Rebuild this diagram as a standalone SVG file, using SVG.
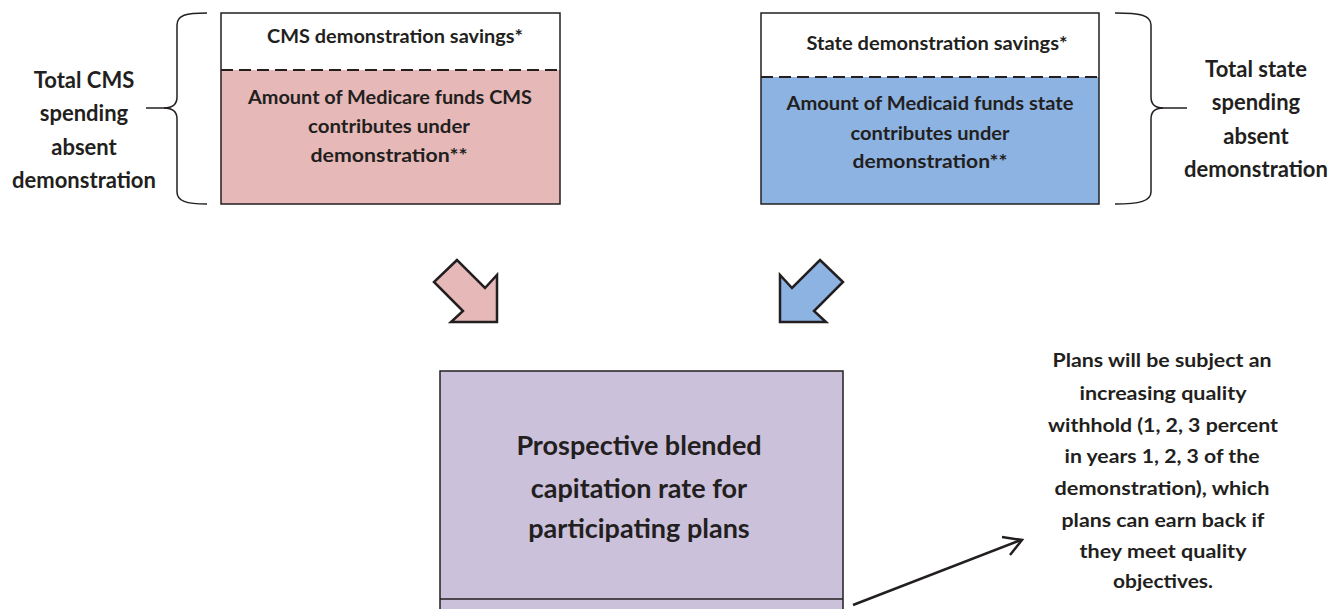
<svg xmlns="http://www.w3.org/2000/svg" width="1333" height="609" viewBox="0 0 1333 609">
  <style>
    text { font-family: Lato, "Open Sans", "Liberation Sans", sans-serif; font-weight: bold; fill: #231f20; text-anchor: middle; }
    .box { stroke: #231f20; stroke-width: 1.5; }
    .dash { stroke: #231f20; stroke-width: 2; stroke-dasharray: 12 6; fill: none; }
    .brace { stroke: #231f20; stroke-width: 1.5; fill: none; }
    .blk { stroke: #231f20; stroke-width: 2.5; stroke-linejoin: miter; }
    .t16 { font-size: 18px; }
    .t21 { font-size: 22px; }
    .t18 { font-size: 19px; }
    .t26 { font-size: 27px; }
  </style>
  <rect width="1333" height="609" fill="#ffffff"/>

  <!-- CMS spending box -->
  <g id="cms-box">
    <rect x="221" y="70" width="339" height="134" fill="#e6b9b8"/>
    <rect class="box" x="221" y="13" width="339" height="191" fill="none"/>
    <line class="dash" x1="221" y1="70" x2="560" y2="70"/>
    <text class="t16" x="395" y="43" textLength="256" lengthAdjust="spacingAndGlyphs">CMS demonstration savings*</text>
    <text class="t16" x="390" y="104" textLength="284" lengthAdjust="spacingAndGlyphs">Amount of Medicare funds CMS</text>
    <text class="t16" x="389" y="133" textLength="162" lengthAdjust="spacingAndGlyphs">contributes under</text>
    <text class="t16" x="389" y="162" textLength="157" lengthAdjust="spacingAndGlyphs">demonstration**</text>
  </g>

  <!-- State spending box -->
  <g id="state-box">
    <rect x="761" y="77" width="338" height="127" fill="#8db3e2"/>
    <rect class="box" x="761" y="13" width="338" height="191" fill="none"/>
    <line class="dash" x1="761" y1="77" x2="1099" y2="77"/>
    <text class="t16" x="937" y="50" textLength="261" lengthAdjust="spacingAndGlyphs">State demonstration savings*</text>
    <text class="t16" x="930" y="110" textLength="287" lengthAdjust="spacingAndGlyphs">Amount of Medicaid funds state</text>
    <text class="t16" x="930" y="140" textLength="159" lengthAdjust="spacingAndGlyphs">contributes under</text>
    <text class="t16" x="930" y="168" textLength="155" lengthAdjust="spacingAndGlyphs">demonstration**</text>
  </g>

  <!-- Left total label with brace -->
  <g id="cms-total">
    <path class="brace" d="M207,13 C186,13 177,15 177,25 L177,97 C177,104 173,108 164,108 C173,108 177,112 177,119 L177,192 C177,201 186,204 207,204"/>
    <line class="brace" x1="146" y1="108" x2="168" y2="108"/>
    <text class="t21" x="84" y="88">Total CMS</text>
    <text class="t21" x="84" y="121">spending</text>
    <text class="t21" x="84" y="155">absent</text>
    <text class="t21" x="84" y="188">demonstration</text>
  </g>

  <!-- Right total label with brace -->
  <g id="state-total">
    <path class="brace" d="M1115,13 C1140,13 1151,15 1151,25 L1151,97 C1151,104 1155,108 1163,108 C1155,108 1151,112 1151,119 L1151,192 C1151,201 1140,204 1115,204"/>
    <line class="brace" x1="1158" y1="108" x2="1187" y2="108"/>
    <text class="t21" x="1256" y="77">Total state</text>
    <text class="t21" x="1256" y="110">spending</text>
    <text class="t21" x="1256" y="144">absent</text>
    <text class="t21" x="1256" y="177">demonstration</text>
  </g>

  <!-- Blended rate box -->
  <g id="blended-rate">
    <rect class="box" x="440" y="371" width="403" height="245" fill="#ccc1da"/>
    <line class="box" x1="440" y1="599" x2="843" y2="599"/>
    <text class="t26" x="639" y="455">Prospective blended</text>
    <text class="t26" x="639" y="498">capitation rate for</text>
    <text class="t26" x="639" y="538">participating plans</text>
  </g>

  <!-- Quality withhold note -->
  <g id="withhold-note">
    <text class="t18" x="1162" y="367" textLength="219" lengthAdjust="spacingAndGlyphs">Plans will be subject an</text>
    <text class="t18" x="1163" y="400" textLength="167" lengthAdjust="spacingAndGlyphs">increasing quality</text>
    <text class="t18" x="1163" y="432" textLength="230" lengthAdjust="spacingAndGlyphs">withhold (1, 2, 3 percent</text>
    <text class="t18" x="1162" y="463" textLength="195" lengthAdjust="spacingAndGlyphs">in years 1, 2, 3 of the</text>
    <text class="t18" x="1162" y="495" textLength="215" lengthAdjust="spacingAndGlyphs">demonstration), which</text>
    <text class="t18" x="1163" y="527" textLength="203" lengthAdjust="spacingAndGlyphs">plans can earn back if</text>
    <text class="t18" x="1163" y="558" textLength="167" lengthAdjust="spacingAndGlyphs">they meet quality</text>
    <text class="t18" x="1163" y="588" textLength="100" lengthAdjust="spacingAndGlyphs">objectives.</text>
  </g>

  <!-- Connectors -->
  <g id="connectors">
    <polygon class="blk" fill="#e6b9b8" points="457,260 434,282 463,311 451,322 497,322 497,275 485,288"/>
    <polygon class="blk" fill="#8db3e2" points="820,260 843,282 814,311 826,322 780,322 780,275 792,288"/>
    <line x1="853" y1="605" x2="1021" y2="540" stroke="#231f20" stroke-width="2.5"/>
    <polyline points="1002,537 1022,540 1010,555" fill="none" stroke="#231f20" stroke-width="2.5"/>
  </g>
</svg>
